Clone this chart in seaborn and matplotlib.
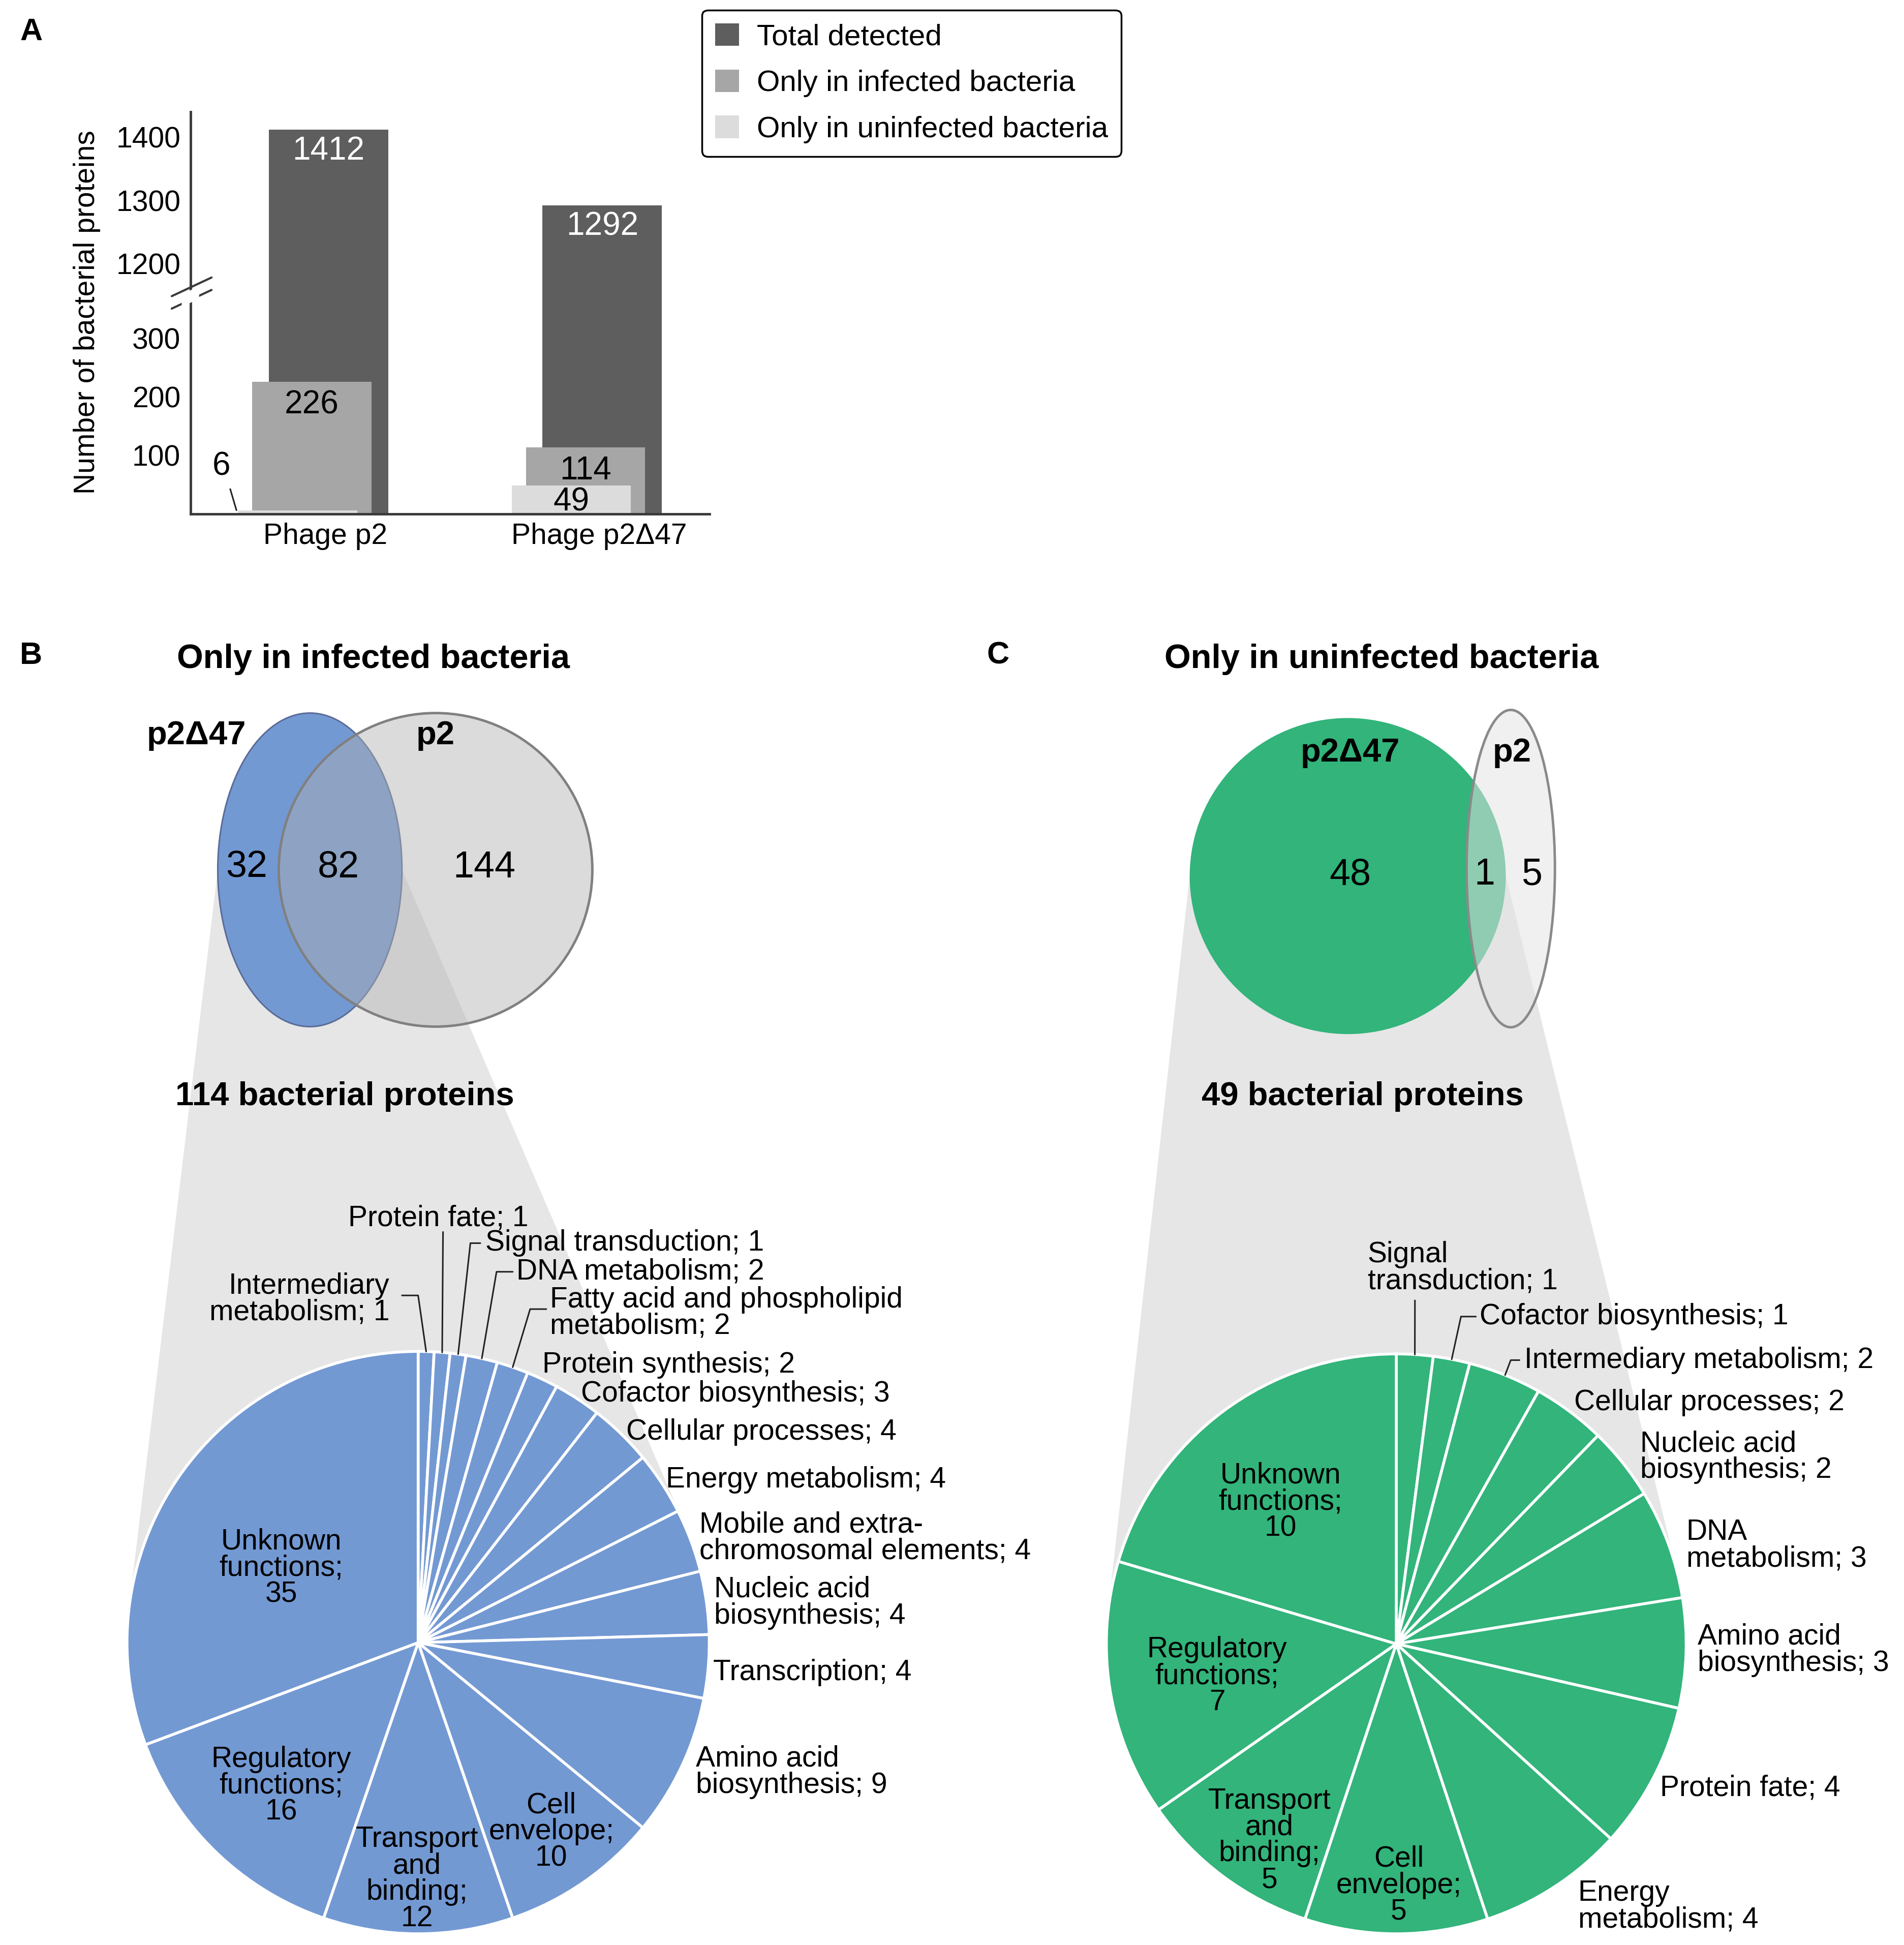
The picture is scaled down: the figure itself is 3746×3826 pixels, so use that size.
import numpy as np
import matplotlib
matplotlib.use("Agg")
import matplotlib.pyplot as plt
import seaborn as sns
from matplotlib.patches import Ellipse, Polygon, Patch

# ---------------- data ----------------
phages = ["Phage p2", "Phage p2\u039447"]
total_detected = [1412, 1292]
only_infected = [226, 114]
only_uninfected = [6, 49]
series_names = ["Total detected", "Only in infected bacteria", "Only in uninfected bacteria"]

venn_b_sets = ["p2\u039447", "p2"]
venn_b_counts = [32, 82, 144]          # only p2Δ47, both, only p2
venn_c_sets = ["p2\u039447", "p2"]
venn_c_counts = [48, 1, 5]

pie_b_categories = ["Intermediary\nmetabolism", "Protein fate", "Signal transduction", "DNA metabolism",
                    "Fatty acid and phospholipid\nmetabolism", "Protein synthesis", "Cofactor biosynthesis",
                    "Cellular processes", "Energy metabolism", "Mobile and extra-\nchromosomal elements",
                    "Nucleic acid\nbiosynthesis", "Transcription", "Amino acid\nbiosynthesis",
                    "Cell\nenvelope", "Transport\nand\nbinding", "Regulatory\nfunctions", "Unknown\nfunctions"]
pie_b_values = [1, 1, 1, 2, 2, 2, 3, 4, 4, 4, 4, 4, 9, 10, 12, 16, 35]

pie_c_categories = ["Signal\ntransduction", "Cofactor biosynthesis", "Intermediary metabolism",
                    "Cellular processes", "Nucleic acid\nbiosynthesis", "DNA\nmetabolism",
                    "Amino acid\nbiosynthesis", "Protein fate", "Energy\nmetabolism",
                    "Cell\nenvelope", "Transport\nand\nbinding", "Regulatory\nfunctions", "Unknown\nfunctions"]
pie_c_values = [1, 1, 2, 2, 2, 3, 3, 4, 4, 5, 5, 7, 10]

# ---------------- layout (display px of a 1530x1563 canvas) ----------------
W, H = 1530, 1563
# (x, y, ha, inside, leader elbow points)
pie_b_layout = [
    (313, 1044, "right", False, [(323, 1041), (336, 1041)]),
    (352, 979, "center", False, [(356, 990)]),
    (390, 999, "left", False, [(386, 999), (378, 999)]),
    (415, 1022, "left", False, [(412, 1022), (399, 1022)]),
    (442, 1055, "left", False, [(439, 1052), (426, 1052)]),
    (436, 1097, "left", False, None),
    (467, 1120, "left", False, None),
    (503, 1151, "left", False, None),
    (535, 1189, "left", False, None),
    (562, 1236, "left", False, None),
    (574, 1288, "left", False, None),
    (573, 1344, "left", False, None),
    (559, 1424, "left", False, None),
    (443, 1472, "center", True, None),
    (335, 1510, "center", True, None),
    (226, 1435, "center", True, None),
    (226, 1260, "center", True, None),
]
pie_c_layout = [
    (1099, 1019, "left", False, [(1137, 1045)]),
    (1189, 1058, "left", False, [(1186, 1058), (1174, 1058)]),
    (1225, 1093, "left", False, [(1221, 1093), (1214, 1093)]),
    (1265, 1127, "left", False, None),
    (1318, 1171, "left", False, None),
    (1355, 1242, "left", False, None),
    (1364, 1326, "left", False, None),
    (1334, 1437, "left", False, None),
    (1268, 1532, "left", False, None),
    (1124, 1515, "center", True, None),
    (1020, 1479, "center", True, None),
    (978, 1347, "center", True, None),
    (1029, 1207, "center", True, None),
]

BLUE = "#7399d3"
GREEN = "#32b47b"
FUNNEL = "#e6e6e6"
BAR_COLORS = ["#5e5e5e", "#a6a6a6", "#dcdcdc"]
FS = 41

sns.set_style("white")
plt.rcParams["font.family"] = ["Liberation Sans", "DejaVu Sans"]
plt.rcParams["text.color"] = "black"
plt.rcParams["axes.labelcolor"] = "black"
plt.rcParams["xtick.color"] = "black"
plt.rcParams["ytick.color"] = "black"

fig = plt.figure(figsize=(37.46, 38.26), dpi=100)


def add_ax(x0, y0, x1, y1, **kw):
    return fig.add_axes([x0 / W, 1 - y1 / H, (x1 - x0) / W, (y1 - y0) / H], **kw)


bg = add_ax(0, 0, W, H, zorder=0)
bg.set_xlim(0, W); bg.set_ylim(H, 0); bg.axis("off")
ov = add_ax(0, 0, W, H, zorder=6)
ov.set_xlim(0, W); ov.set_ylim(H, 0); ov.axis("off")

# ---------------- panel A: broken-axis bar chart ----------------
ax_lo = add_ax(153, 236, 570, 413, zorder=1)
ax_hi = add_ax(153, 90, 570, 236, zorder=1)
pos = np.arange(len(phages))
layers = [(total_detected, BAR_COLORS[0], 0.061),
          (only_infected, BAR_COLORS[1], 0.0),
          (only_uninfected, BAR_COLORS[2], -0.052)]
for ax in (ax_lo, ax_hi):
    for vals, col, off in layers:
        sns.barplot(x=pos + off, y=vals, native_scale=True, orient="x", width=0.436,
                    color=col, saturation=1, linewidth=0, errorbar=None, ax=ax)
    ax.set_xlim(-0.443, 1.452)
    ax.patch.set_alpha(0)
    ax.set_xlabel(""); ax.set_ylabel("")
    ax.tick_params(axis="both", length=0, labelsize=FS, colors="black")
    ax.tick_params(axis="y", pad=14)
    for s in ax.spines.values():
        s.set_color("#3a3a3a"); s.set_linewidth(3.5)
    ax.spines["top"].set_visible(False); ax.spines["right"].set_visible(False)

ax_lo.set_ylim(0, 376.6)
ax_lo.set_yticks([100, 200, 300])
ax_lo.set_xticks(pos + 0.05)
ax_lo.set_xticklabels(phages)
ax_lo.tick_params(axis="x", pad=12)

ax_hi.set_ylim(1152, 1440)
ax_hi.set_yticks([1200, 1300, 1400])
ax_hi.set_xticks([])
ax_hi.spines["bottom"].set_visible(False)

for i, v in enumerate(total_detected):
    ax_hi.annotate(str(v), (pos[i] + 0.061, v), xytext=(0, -30), textcoords="offset points",
                   ha="center", va="center", color="white", fontsize=46)
for i, v in enumerate(only_infected):
    ax_lo.annotate(str(v), (pos[i], v), xytext=(0, -33), textcoords="offset points",
                   ha="center", va="center", color="black", fontsize=46)
for i, v in enumerate(only_uninfected):
    if v < 20:
        ov.text(178, 375, str(v), ha="center", va="center", fontsize=46)
        ov.plot([185, 190], [393, 410], color="#222222", lw=2.2)
    else:
        ax_lo.annotate(str(v), (pos[i] - 0.052, v), xytext=(0, -24), textcoords="offset points",
                       ha="center", va="center", color="black", fontsize=46)

ov.text(70, 251, "Number of bacterial proteins", rotation=90, ha="center", va="center", fontsize=FS)

# axis break marks
ov.add_patch(Polygon([(146, 236.6), (160, 230.0), (160, 240.0), (146, 246.6)],
                     closed=True, fc="white", ec="none", zorder=3))
ov.plot([138, 170], [238, 223], color="#3a3a3a", lw=3)
ov.plot([138, 170], [248, 233], color="#3a3a3a", lw=3)

handles = [Patch(fc=c, ec="none") for c in BAR_COLORS]
leg = ax_hi.legend(handles, series_names, loc="upper left", bbox_to_anchor=(564 / W, 1 - 8 / H),
                   bbox_transform=fig.transFigure, fontsize=42, frameon=True, fancybox=True,
                   handlelength=0.8, handleheight=0.8, handletextpad=0.6, labelspacing=0.62,
                   borderpad=0.45, borderaxespad=0)
leg.get_frame().set_edgecolor("black")
leg.get_frame().set_linewidth(2.5)
leg.get_frame().set_alpha(1)

# ---------------- helpers for funnels ----------------
def tangent_points(P, C, r):
    P = np.asarray(P, float); C = np.asarray(C, float)
    v = P - C
    d = np.hypot(*v)
    a = np.arccos(r / d)
    base = np.arctan2(v[1], v[0])
    return [C + r * np.array([np.cos(base + s * a), np.sin(base + s * a)]) for s in (1, -1)]


def funnel(ax, Pl, Pr, C, r):
    Tl = min(tangent_points(Pl, C, r), key=lambda p: p[0])
    Tr = max(tangent_points(Pr, C, r), key=lambda p: p[0])
    ax.add_patch(Polygon([Pl, Pr, tuple(Tr), C, tuple(Tl)], closed=True, fc=FUNNEL, ec="none", zorder=1))


def draw_pie(values, cats, layout, C, r, color):
    axp = add_ax(C[0] - r, C[1] - r, C[0] + r, C[1] + r, zorder=2)
    wedges, _ = axp.pie(values, startangle=90, counterclock=False, colors=[color] * len(values),
                        wedgeprops=dict(edgecolor="white", linewidth=4))
    axp.set_xlim(-1, 1); axp.set_ylim(-1, 1); axp.set_aspect("equal"); axp.axis("off")
    for w in wedges:
        w.set_clip_on(False)
    for w, cat, v, (x, y, ha, inside, elbow) in zip(wedges, cats, values, layout):
        label = f"{cat};\n{v}" if inside else f"{cat}; {v}"
        ma = ha if not inside else "center"
        ov.text(x, y, label, ha=ha, va="center", fontsize=FS, multialignment=ma, linespacing=0.95)
        if elbow is not None:
            th = np.deg2rad((w.theta1 + w.theta2) / 2)
            edge = (C[0] + r * np.cos(th), C[1] - r * np.sin(th))
            pts = list(elbow) + [edge]
            ov.plot([p[0] for p in pts], [p[1] for p in pts], color="#222222", lw=2.2)


# ---------------- panel B ----------------
cB, rB = (336, 1320), 234
eB = dict(c=(249, 699), w=148, h=252)
funnel(bg, (eB["c"][0] - eB["w"] / 2, eB["c"][1]), (eB["c"][0] + eB["w"] / 2, eB["c"][1]), cB, rB)
bg.add_patch(Ellipse(eB["c"], eB["w"], eB["h"], fc=BLUE, ec="#5a6c98", lw=2.2, zorder=2))
bg.add_patch(Ellipse((350, 699), 252, 252, fc=(177 / 255, 177 / 255, 177 / 255, 0.45),
                     ec="#808080", lw=3.5, zorder=3))
draw_pie(pie_b_values, pie_b_categories, pie_b_layout, cB, rB, BLUE)

ov.text(300, 530, "Only in infected bacteria", ha="center", va="center", fontsize=48, fontweight="bold")
ov.text(158, 591, venn_b_sets[0], ha="center", va="center", fontsize=47, fontweight="bold")
ov.text(350, 591, venn_b_sets[1], ha="center", va="center", fontsize=47, fontweight="bold")
for x, v in zip([198, 272, 389], venn_b_counts):
    ov.text(x, 697, str(v), ha="center", va="center", fontsize=53)
ov.text(277, 881, f"{sum(pie_b_values)} bacterial proteins", ha="center", va="center",
        fontsize=47, fontweight="bold")

# ---------------- panel C ----------------
cC, rC = (1122, 1321), 233
eC = dict(c=(1083, 704), w=254, h=254)
funnel(bg, (eC["c"][0] - eC["w"] / 2, eC["c"][1]), (eC["c"][0] + eC["w"] / 2, eC["c"][1]), cC, rC)
bg.add_patch(Ellipse(eC["c"], eC["w"], eC["h"], fc=GREEN, ec="none", zorder=2))
bg.add_patch(Ellipse((1214, 698), 71, 255, fc=(227 / 255, 227 / 255, 227 / 255, 0.53),
                     ec="#8a8a8a", lw=3.5, zorder=3))
draw_pie(pie_c_values, pie_c_categories, pie_c_layout, cC, rC, GREEN)

ov.text(1110, 530, "Only in uninfected bacteria", ha="center", va="center", fontsize=48, fontweight="bold")
ov.text(1085, 605, venn_c_sets[0], ha="center", va="center", fontsize=47, fontweight="bold")
ov.text(1215, 605, venn_c_sets[1], ha="center", va="center", fontsize=47, fontweight="bold")
for x, v in zip([1085, 1193, 1231], venn_c_counts):
    ov.text(x, 703, str(v), ha="center", va="center", fontsize=53)
ov.text(1095, 881, f"{sum(pie_c_values)} bacterial proteins", ha="center", va="center",
        fontsize=47, fontweight="bold")

# panel letters
for x, y, s in [(25, 26, "A"), (25, 527, "B"), (802, 527, "C")]:
    ov.text(x, y, s, ha="center", va="center", fontsize=44, fontweight="bold")

fig.savefig("out.png", dpi=100, facecolor="white")
